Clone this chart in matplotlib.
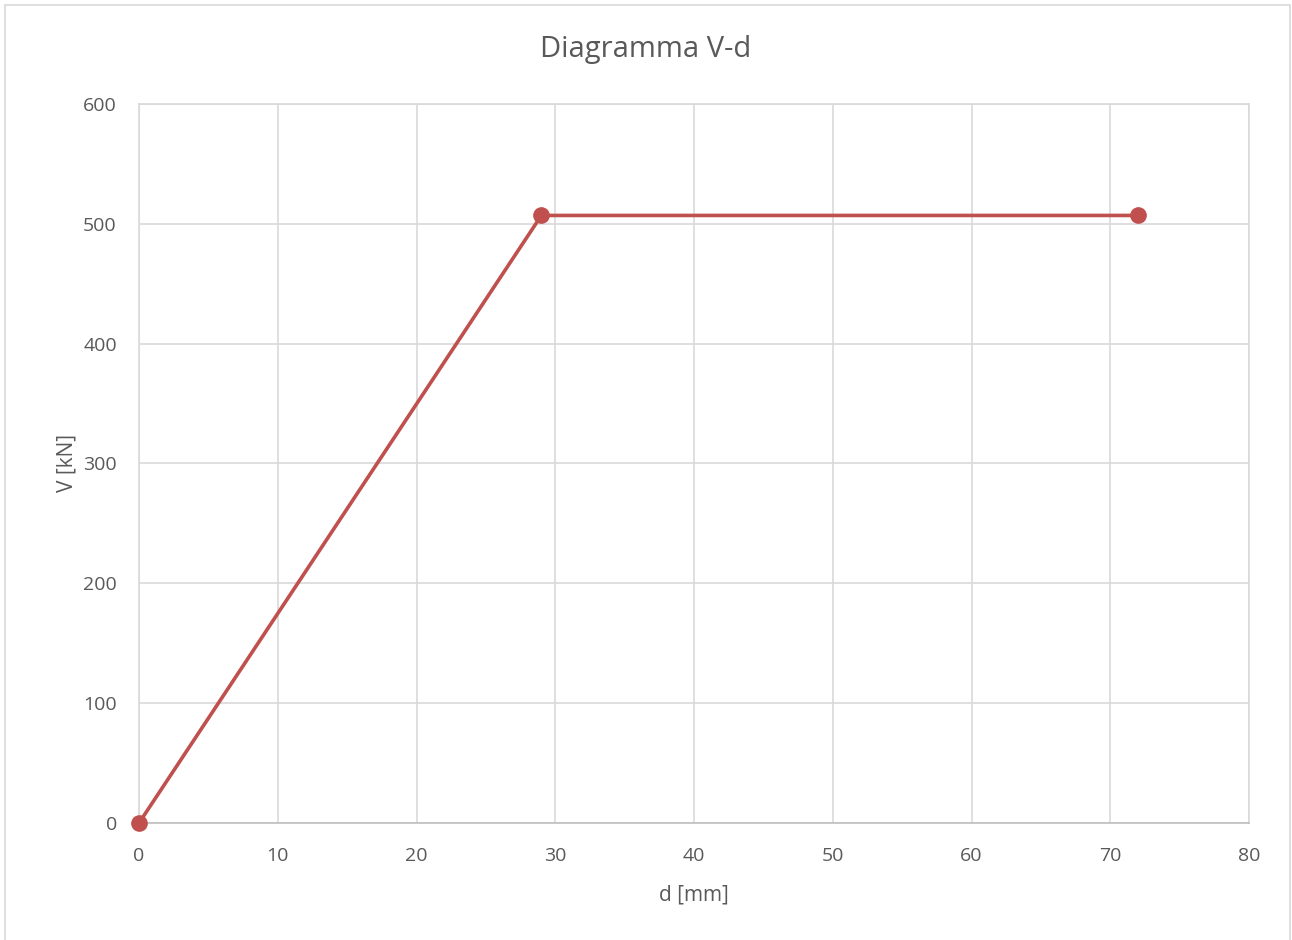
import matplotlib
matplotlib.use("Agg")
import matplotlib.pyplot as plt
from matplotlib.patches import Rectangle

d_mm = [0, 29, 72]
V_kN = [0, 507, 507]
x_ticks = [0, 10, 20, 30, 40, 50, 60, 70, 80]
y_ticks = [0, 100, 200, 300, 400, 500, 600]

plt.rcParams['font.family'] = ['Open Sans', 'DejaVu Sans']
txt = '#595959'
grid = '#D9D9D9'

fig = plt.figure(figsize=(12.92, 9.40), dpi=100)
fig.patches.append(Rectangle((5/1292, -0.01), (1290-5)/1292, 1 - 5/940 + 0.01,
                             transform=fig.transFigure, fill=False,
                             edgecolor='#D9D9D9', linewidth=1.2))
ax = fig.add_axes([139/1292, 1-823/940, (1249-139)/1292, (823-104)/940])
ax.plot(d_mm, V_kN, color='#C0504D', linewidth=2.6, marker='o', markersize=11,
        markerfacecolor='#C0504D', markeredgecolor='#C0504D', zorder=3, clip_on=False)
ax.set_xlim(0, 80)
ax.set_ylim(0, 600)
ax.set_xticks(x_ticks)
ax.set_yticks(y_ticks)
ax.grid(True, color=grid, linewidth=1.2)
ax.set_axisbelow(True)
for s in ax.spines.values():
    s.set_color(grid)
    s.set_linewidth(1.2)
ax.spines['bottom'].set_color('#BFBFBF')
ax.tick_params(axis='x', length=0, labelsize=14, colors=txt, pad=17)
ax.tick_params(axis='y', length=0, labelsize=14, colors=txt, pad=16)
ax.set_xlabel('d [mm]', fontsize=15, color=txt, labelpad=14)
ax.set_ylabel('V [kN]', fontsize=15, color=txt, labelpad=4)
fig.text(0.5, 1-50/940, 'Diagramma V-d', fontsize=21, color=txt,
         ha='center', va='center')
fig.savefig('out.png', dpi=100)
